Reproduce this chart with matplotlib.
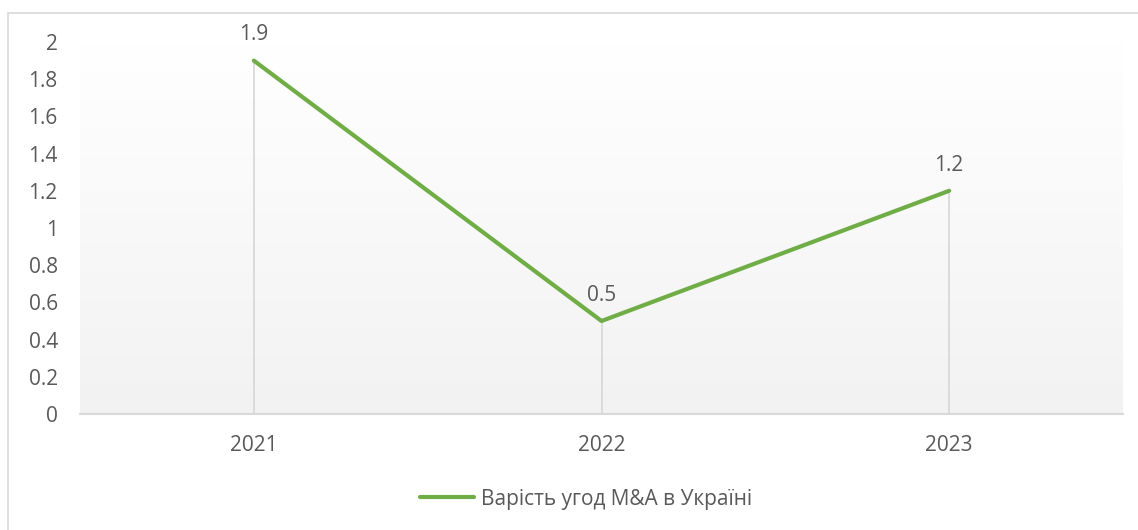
import numpy as np
import matplotlib.pyplot as plt
from matplotlib.colors import LinearSegmentedColormap
from matplotlib.patches import Rectangle

years = ["2021", "2022", "2023"]
values = [1.9, 0.5, 1.2]
series_name = "Варість угод M&A в Україні"

plt.rcParams['font.family'] = ['Open Sans', 'DejaVu Sans']
text_color = '#595959'
line_color = '#70AD47'
grid_color = '#D9D9D9'

fig = plt.figure(figsize=(11.38, 5.30), dpi=100)
ax = fig.add_axes([80 / 1138, 1 - 414 / 530, 1043 / 1138, 372 / 530])

# outer chart border (cut off on the right and bottom in the reference)
fig.patches.append(Rectangle((8 / 1138, -0.05), 1.2, 1 - 13 / 530 + 0.05,
                             transform=fig.transFigure, fill=False,
                             edgecolor=grid_color, linewidth=1.2))

# plot area gradient: white at top to light grey at bottom
cmap = LinearSegmentedColormap.from_list('bg', ['#F2F2F2', '#FFFFFF'])
grad = np.linspace(0, 1, 256).reshape(-1, 1)
ax.imshow(grad, cmap=cmap, aspect='auto', origin='lower',
          extent=[0, 1, 0, 1], transform=ax.transAxes, zorder=0)

x = np.arange(len(years))
ax.vlines(x, 0, values, color=grid_color, linewidth=1.3, zorder=1)
ax.plot(x, values, color=line_color, linewidth=3, solid_capstyle='round',
        label=series_name, zorder=3)

for xi, v in zip(x, values):
    ax.annotate(f"{v}", (xi, v), xytext=(0, 11), textcoords='offset points',
                ha='center', va='bottom', fontsize=15, color=text_color)

ax.set_xlim(-0.5, len(years) - 0.5)
ax.set_ylim(0, 2)
ax.set_xticks(x)
ax.set_xticklabels(years)
ax.set_yticks(np.arange(0, 2.01, 0.2))
ax.set_yticklabels(["0", "0.2", "0.4", "0.6", "0.8", "1", "1.2", "1.4", "1.6", "1.8", "2"])
ax.tick_params(axis='both', length=0, labelsize=15, labelcolor=text_color)
ax.tick_params(axis='x', pad=15)
ax.tick_params(axis='y', pad=16)

for side in ['top', 'right', 'left']:
    ax.spines[side].set_visible(False)
ax.spines['bottom'].set_color(grid_color)
ax.spines['bottom'].set_linewidth(1.5)
ax.spines['bottom'].set_zorder(2)

fig.legend(loc='center', bbox_to_anchor=(0.515, 1 - 499 / 530), frameon=False,
           fontsize=15, labelcolor=text_color, handlelength=2.6, handletextpad=0.3)

fig.savefig('out.png', dpi=100)
